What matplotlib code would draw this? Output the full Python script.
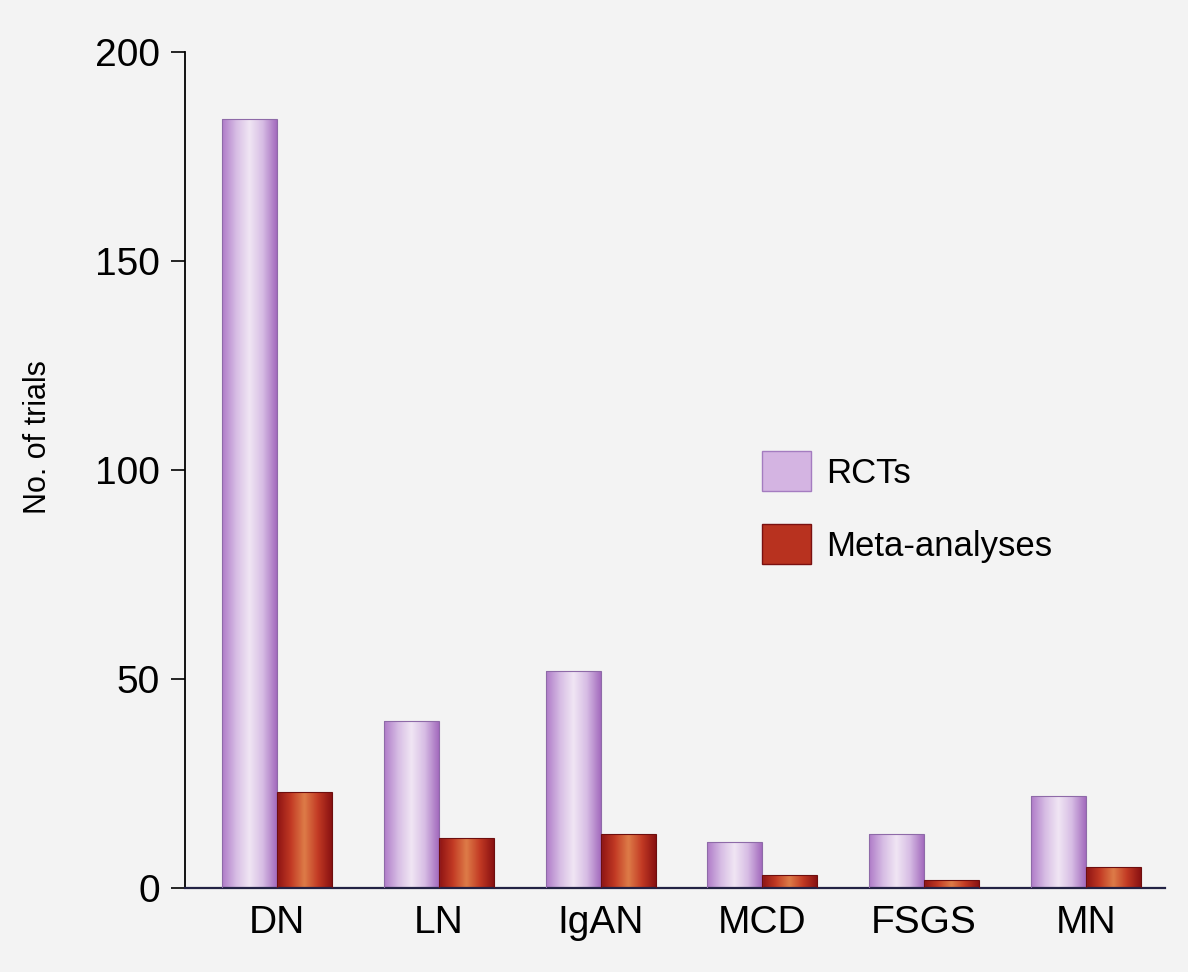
import numpy as np
import matplotlib.pyplot as plt
from matplotlib.colors import LinearSegmentedColormap
from matplotlib.patches import Patch

# values
categories = ["DN", "LN", "IgAN", "MCD", "FSGS", "MN"]
rcts = [184, 40, 52, 11, 13, 22]
meta_analyses = [23, 12, 13, 3, 2, 5]
series_names = ["RCTs", "Meta-analyses"]
yticks = [0, 50, 100, 150, 200]

plt.rcParams["font.family"] = ["Liberation Sans", "DejaVu Sans"]

# cylinder-like shading: dark edges, light middle
rct_cmap = LinearSegmentedColormap.from_list(
    "rct", ["#b07cc8", "#d6bce4", "#f1e6f4", "#d6bce4", "#a46cbe"])
meta_cmap = LinearSegmentedColormap.from_list(
    "meta", ["#8e1414", "#c23a24", "#de7c48", "#c23a24", "#8a1212"])


def shade_bars(ax, bars, cmap):
    grad = np.linspace(0, 1, 64).reshape(1, -1)
    for b in bars:
        x, y = b.get_x(), b.get_y()
        w, h = b.get_width(), b.get_height()
        im = ax.imshow(grad, cmap=cmap, aspect="auto", extent=(x, x + w, y, y + h),
                       zorder=2, interpolation="bilinear")
        im.set_clip_path(b)
        b.set_facecolor("none")


fig = plt.figure(figsize=(11.88, 9.72), dpi=100, facecolor="#f3f3f3")
ax = fig.add_axes([0.1557, 0.0864, 0.825, 0.86])
ax.set_facecolor("#f3f3f3")

x = np.arange(len(categories))
w = 0.34
b1 = ax.bar(x - w / 2, rcts, w, edgecolor="#8e6aa8", linewidth=0.8, zorder=3,
            label=series_names[0])
b2 = ax.bar(x + w / 2, meta_analyses, w, edgecolor="#6e0e0e", linewidth=0.8, zorder=3,
            label=series_names[1])
shade_bars(ax, b1, rct_cmap)
shade_bars(ax, b2, meta_cmap)

ax.set_xlim(-0.57, 5.49)
ax.set_ylim(0, 200)
ax.set_yticks(yticks)
ax.set_xticks(x)
ax.set_xticklabels(categories)
ax.tick_params(axis="y", length=10, width=1.2, pad=8, labelsize=28)
ax.tick_params(axis="x", length=0, pad=12, labelsize=28)
ax.spines["top"].set_visible(False)
ax.spines["right"].set_visible(False)
ax.spines["left"].set_linewidth(1.3)
ax.spines["bottom"].set_linewidth(1.6)
ax.spines["bottom"].set_color("#222244")

ax.set_ylabel("No. of trials", fontsize=22)
ax.yaxis.set_label_coords(-0.135, 0.54)

handles = [Patch(facecolor="#d4b4e2", edgecolor="#a47cc0"),
           Patch(facecolor="#b8321f", edgecolor="#7a1010")]
ax.legend(handles, series_names, loc="upper left", bbox_to_anchor=(0.557, 0.56),
          frameon=False, fontsize=25, handlelength=1.4, handleheight=1.4,
          labelspacing=0.95, handletextpad=0.45)

fig.savefig("out.png", dpi=100, facecolor=fig.get_facecolor())
